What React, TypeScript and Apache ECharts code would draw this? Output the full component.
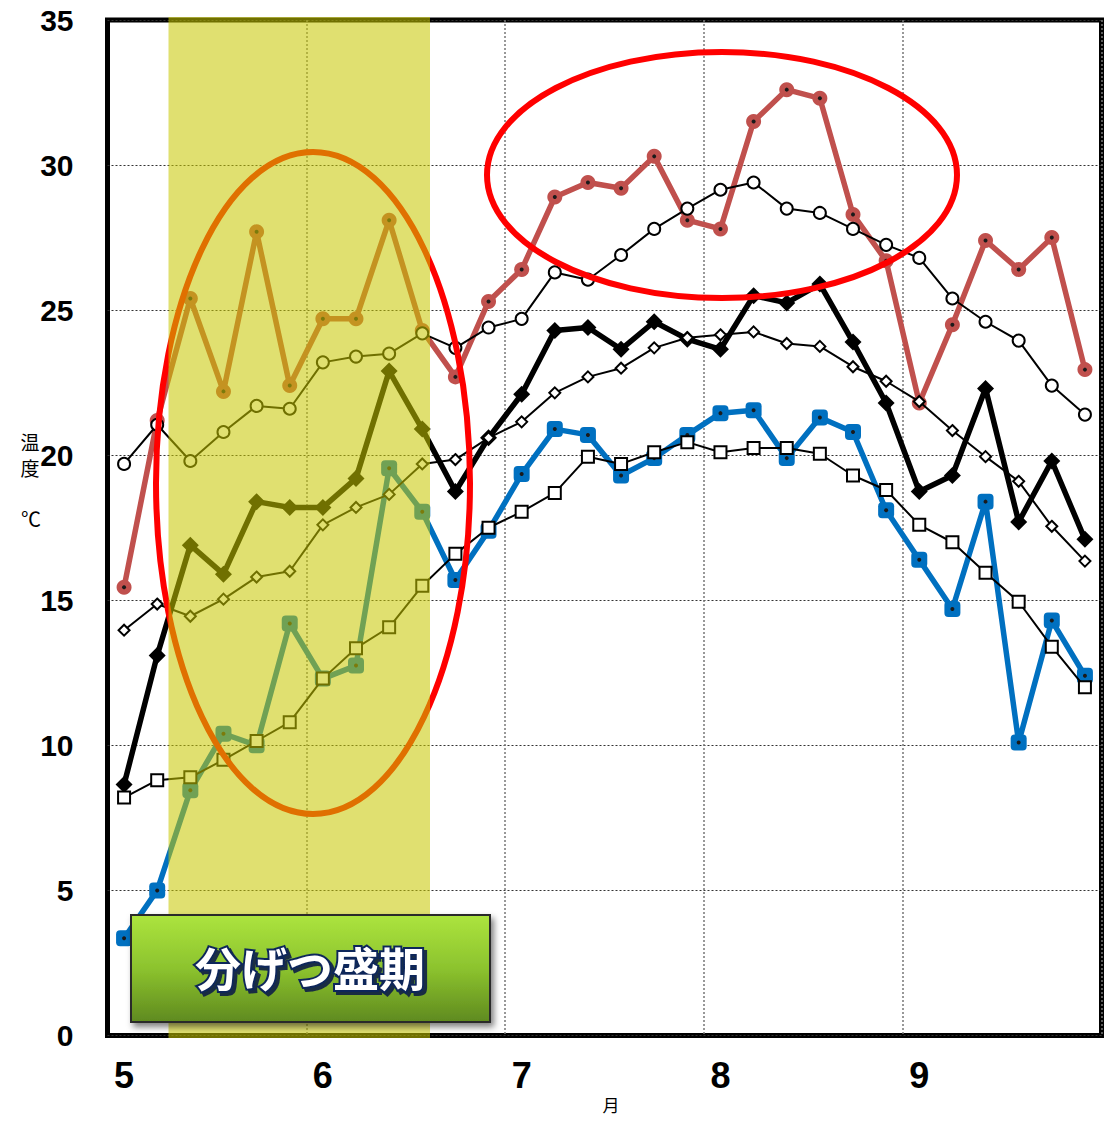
import React, { useEffect, useRef } from "react";
import * as echarts from "echarts";

const months = ["5", "6", "7", "8", "9"];
const pentads = ["1", "2", "3", "4", "5", "6"];
const categories = months.flatMap((m) => pentads.map((p) => `${m}-${p}`));

const yTicks = { min: 0, max: 35, interval: 5 };

// this year's maximum temperature
const maxThisYear = [
  15.45, 21.2, 25.4, 22.2, 27.7, 22.4, 24.7, 24.7, 28.1, 24.3,
  22.7, 25.3, 26.4, 28.9, 29.4, 29.2, 30.3, 28.1, 27.8, 31.5,
  32.6, 32.3, 28.3, 26.7, 21.8, 24.5, 27.4, 26.4, 27.5, 22.95,
];
// normal maximum temperature
const maxNormal = [
  19.7, 21.05, 19.8, 20.8, 21.7, 21.6, 23.2, 23.4, 23.5, 24.2,
  23.7, 24.4, 24.7, 26.3, 26.05, 26.9, 27.8, 28.5, 29.15, 29.4,
  28.5, 28.35, 27.8, 27.25, 26.8, 25.4, 24.6, 23.95, 22.4, 21.4,
];
// this year's mean temperature
const meanThisYear = [
  8.65, 13.1, 16.9, 15.9, 18.4, 18.2, 18.2, 19.2, 22.9, 20.9,
  18.75, 20.6, 22.1, 24.3, 24.4, 23.65, 24.6, 24.0, 23.65, 25.5,
  25.25, 25.9, 23.9, 21.8, 18.75, 19.3, 22.3, 17.7, 19.8, 17.1,
];
// normal mean temperature
const meanNormal = [
  13.97, 14.87, 14.45, 15.04, 15.8, 16.0, 17.6, 18.2, 18.65, 19.7,
  19.85, 20.6, 21.15, 22.15, 22.7, 23.0, 23.7, 24.05, 24.15, 24.25,
  23.85, 23.75, 23.05, 22.55, 21.85, 20.85, 19.95, 19.1, 17.55, 16.35,
];
// this year's minimum temperature
const minThisYear = [
  3.35, 5.0, 8.45, 10.4, 10.0, 14.2, 12.3, 12.75, 19.55, 18.05,
  15.7, 17.4, 19.35, 20.9, 20.7, 19.3, 19.9, 20.7, 21.45, 21.55,
  19.9, 21.3, 20.8, 18.1, 16.4, 14.7, 18.4, 10.1, 14.3, 12.4,
];
// normal minimum temperature
const minNormal = [
  8.2, 8.8, 8.9, 9.5, 10.15, 10.8, 12.3, 13.35, 14.07, 15.5,
  16.6, 17.5, 18.05, 18.7, 19.95, 19.7, 20.1, 20.45, 20.1, 20.25,
  20.25, 20.05, 19.3, 18.8, 17.6, 17.0, 15.95, 14.95, 13.4, 12.0,
];

const bandLabel = "分げつ盛期";
const yName = ["温", "度"];
const yUnit = "℃";
const xName = "月";

const numFont = '"Liberation Sans Narrow", "Arial Narrow", "Liberation Sans", Arial, sans-serif';
const cjkFont = '"Noto Sans CJK JP", "Noto Sans", sans-serif';

function thickSeries(name: string, data: number[], color: string, symbol: string, size: number, dot: boolean) {
  const out: any[] = [
    {
      name,
      type: "line",
      data,
      symbol,
      symbolSize: size,
      showAllSymbol: true,
      lineStyle: { color, width: 5.5 },
      itemStyle: { color, borderWidth: 0 },
      z: 3,
    },
  ];
  if (dot) {
    out.push({
      name: name + "-dot",
      type: "line",
      data,
      symbol: "circle",
      symbolSize: 4,
      showAllSymbol: true,
      lineStyle: { width: 0, opacity: 0 },
      itemStyle: { color: "#1a1a1a", borderWidth: 0 },
      z: 4,
    });
  }
  return out;
}

function thinSeries(name: string, data: number[], symbol: string, size: number) {
  return {
    name,
    type: "line",
    data,
    symbol,
    symbolSize: size,
    showAllSymbol: true,
    lineStyle: { color: "#000", width: 2 },
    itemStyle: { color: "#fff", borderColor: "#000", borderWidth: 2 },
    z: 5,
  };
}

export default function App() {
  const ref = useRef<HTMLDivElement>(null);
  useEffect(() => {
    if (!ref.current) return;
    const chart = echarts.init(ref.current, undefined, { renderer: "svg" });
    const option: any = {
      animation: false,
      backgroundColor: "#fff",
      grid: {
        left: 107.5,
        right: 12.5,
        top: 20,
        bottom: 89.5,
        show: true,
        borderColor: "#000",
        borderWidth: 5,
        backgroundColor: "transparent",
      },
      xAxis: {
        type: "category",
        data: categories,
        boundaryGap: true,
        axisLine: { show: false },
        axisTick: { show: false },
        axisLabel: {
          interval: (i: number) => i % 6 === 0,
          formatter: (v: string) => v.split("-")[0],
          fontSize: 36,
          fontWeight: "bold",
          fontFamily: numFont,
          color: "#000",
          margin: 22,
        },
        splitLine: {
          show: true,
          interval: (i: number) => i % 6 === 0 && i > 0,
          lineStyle: { color: "#777", type: [2, 2], width: 1.5 },
        },
      },
      yAxis: {
        type: "value",
        min: yTicks.min,
        max: yTicks.max,
        interval: yTicks.interval,
        axisLine: { show: false },
        axisTick: { show: false },
        axisLabel: {
          fontSize: 30,
          fontWeight: "bold",
          fontFamily: numFont,
          color: "#000",
          margin: 34,
        },
        splitLine: { show: true, lineStyle: { color: "#333", type: [2, 2], width: 1 } },
      },
      series: [
        ...thickSeries("最高気温(本年)", maxThisYear, "#C0504D", "circle", 15, true),
        ...thickSeries("平均気温(本年)", meanThisYear, "#000", "diamond", 17, false),
        ...thickSeries("最低気温(本年)", minThisYear, "#0070C0", "roundRect", 16, true),
        thinSeries("最高気温(平年)", maxNormal, "circle", 12),
        thinSeries("平均気温(平年)", meanNormal, "diamond", 11),
        thinSeries("最低気温(平年)", minNormal, "rect", 12),
      ],
      graphic: [
        {
          type: "ellipse",
          z: 10,
          shape: { cx: 722, cy: 175, rx: 235, ry: 123 },
          style: { fill: "none", stroke: "#FF0000", lineWidth: 6 },
        },
        {
          type: "ellipse",
          z: 10,
          shape: { cx: 313, cy: 483, rx: 157, ry: 331 },
          style: { fill: "none", stroke: "#FF0000", lineWidth: 6 },
        },
        {
          type: "rect",
          z: 11,
          shape: { x: 168.5, y: 17, width: 261.5, height: 1021 },
          style: { fill: "rgba(200,200,0,0.56)" },
        },
        {
          type: "rect",
          z: 12,
          shape: { x: 131, y: 915, width: 359, height: 107 },
          style: {
            fill: {
              type: "linear",
              x: 0,
              y: 0,
              x2: 0,
              y2: 1,
              colorStops: [
                { offset: 0, color: "#ACE43E" },
                { offset: 0.5, color: "#8CC32E" },
                { offset: 1, color: "#5F8A1F" },
              ],
            },
            stroke: "#2a2a2a",
            lineWidth: 2,
            shadowBlur: 6,
            shadowOffsetX: 3,
            shadowOffsetY: 4,
            shadowColor: "rgba(0,0,0,0.5)",
          },
        },
        {
          type: "text",
          z: 14,
          style: {
            text: bandLabel,
            x: 310,
            y: 966,
            align: "center",
            verticalAlign: "middle",
            font: `bold 46px ${cjkFont}`,
            fill: "#fff",
            stroke: "#10285A",
            lineWidth: 4,
            strokeFirst: true,
            textShadowColor: "rgba(14,30,68,0.9)",
            textShadowBlur: 1,
            textShadowOffsetX: 3,
            textShadowOffsetY: 3,
          },
        },
        {
          type: "text",
          style: { text: yName[0], x: 30, y: 441, align: "center", verticalAlign: "middle", font: `19px ${cjkFont}`, fill: "#000" },
        },
        {
          type: "text",
          style: { text: yName[1], x: 30, y: 467, align: "center", verticalAlign: "middle", font: `19px ${cjkFont}`, fill: "#000" },
        },
        {
          type: "text",
          style: { text: yUnit, x: 31, y: 518, align: "center", verticalAlign: "middle", font: `20px ${cjkFont}`, fill: "#000" },
        },
        {
          type: "text",
          style: { text: xName, x: 611, y: 1104, align: "center", verticalAlign: "middle", font: `17px ${cjkFont}`, fill: "#000" },
        },
      ],
    };
    chart.setOption(option);
    return () => chart.dispose();
  }, []);
  return (
    <div
      ref={ref}
      style={{ position: "fixed", left: 0, top: 0, width: 1114, height: 1125, background: "#fff" }}
    />
  );
}
